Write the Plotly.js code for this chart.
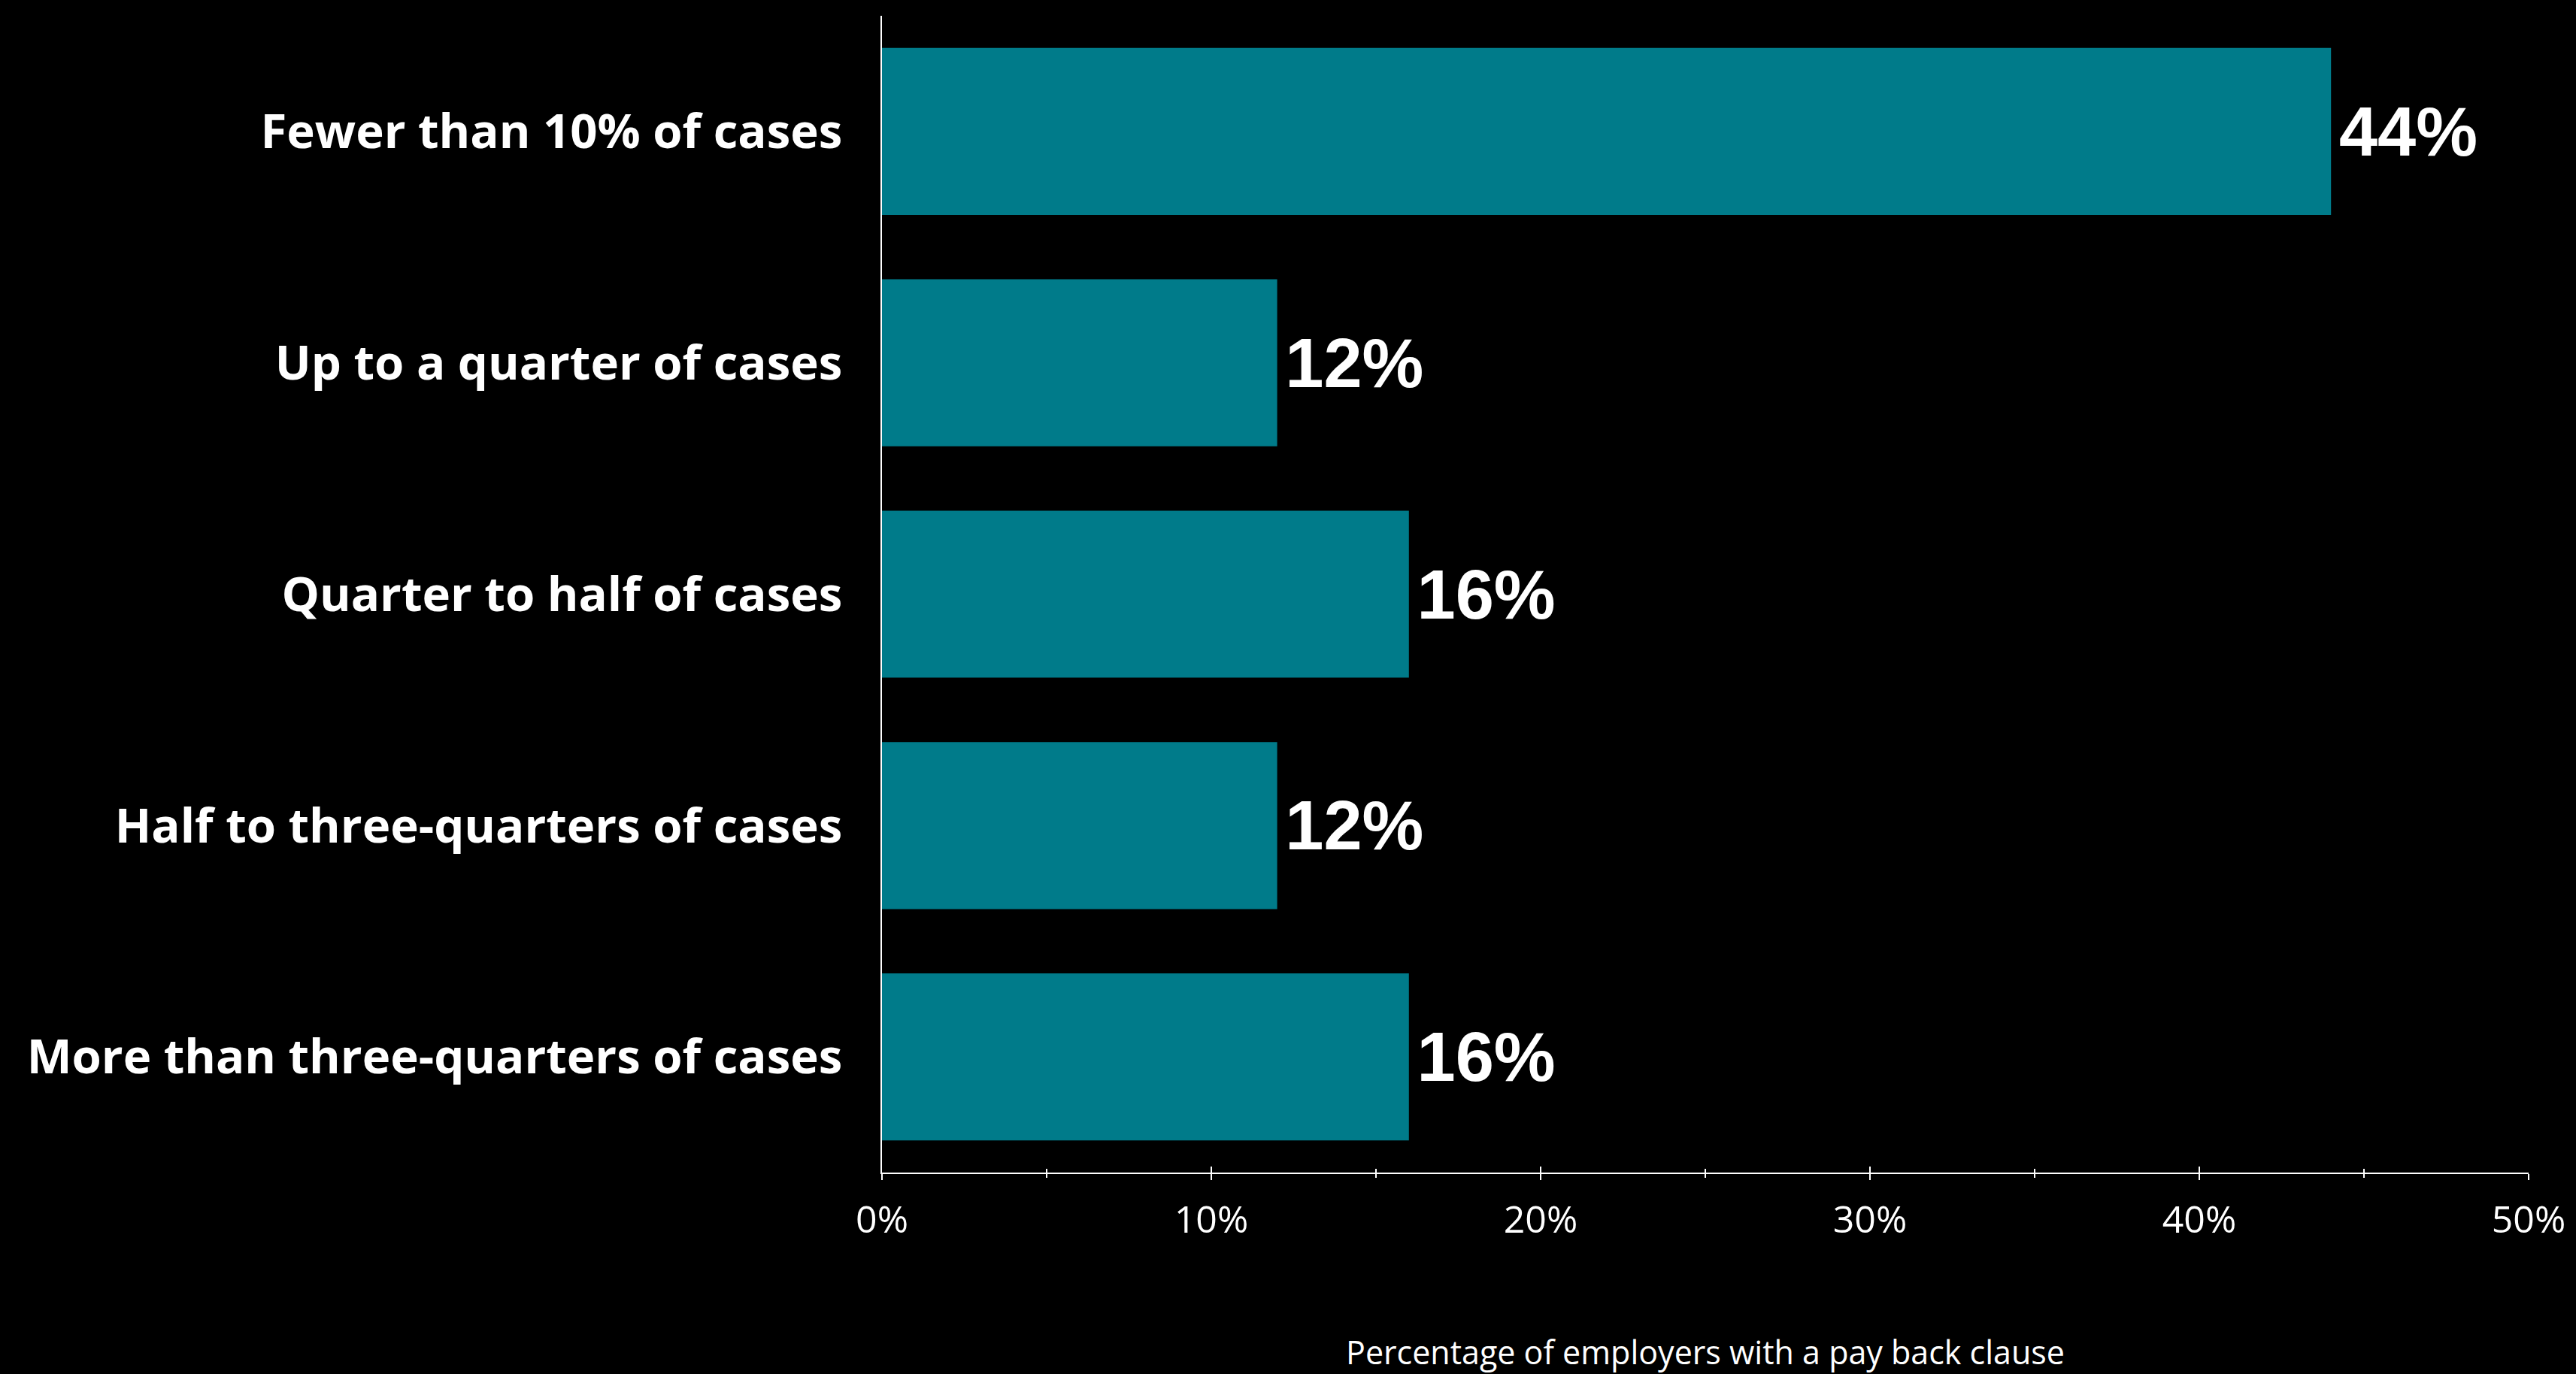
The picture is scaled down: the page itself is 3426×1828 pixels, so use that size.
<!DOCTYPE html>
<html>
<head>
<meta charset="utf-8">
<script src="https://cdn.plot.ly/plotly-3.0.1.min.js"></script>
<style>html,body{margin:0;padding:0;background:#000;}#chart{width:3426px;height:1828px;}</style>
</head>
<body>
<div id="chart"></div>
<script>
const categories = [
  "Fewer than 10% of cases",
  "Up to a quarter of cases",
  "Quarter to half of cases",
  "Half to three-quarters of cases",
  "More than three-quarters of cases"
];
const values = [44, 12, 16, 12, 16];
const xTickVals = [0, 10, 20, 30, 40, 50];
const xTickText = ["0%", "10%", "20%", "30%", "40%", "50%"];
const xTitle = "Percentage of employers with a pay back clause";

const trace = {
  type: "bar",
  orientation: "h",
  y: categories,
  x: values,
  marker: {color: "#007b8a"},
  text: values.map(v => "\u200A" + v + "%"),
  textposition: "outside",
  cliponaxis: false,
  textfont: {family: "Liberation Sans, Arial, sans-serif", size: 92, color: "#ffffff", weight: "bold"},
  hoverinfo: "none"
};
const ghost = {type: "scatter", x: [0], y: [categories[0]], xaxis: "x2", mode: "none", showlegend: false, hoverinfo: "none"};

const layout = {
  width: 3426, height: 1828,
  paper_bgcolor: "#000000", plot_bgcolor: "#000000",
  margin: {l: 1173, r: 63, t: 21, b: 268},
  bargap: 0.278,
  showlegend: false,
  font: {family: "Open Sans, sans-serif", color: "#ffffff"},
  xaxis: {
    range: [0, 50], fixedrange: true,
    showgrid: false, zeroline: false,
    showline: true, linecolor: "#ffffff", linewidth: 2,
    tickvals: xTickVals, ticktext: xTickText,
    ticks: "outside", ticklen: 8, tickwidth: 2, tickcolor: "#ffffff",
    minor: {dtick: 5, ticks: "outside", ticklen: 5, tickwidth: 2, tickcolor: "#ffffff", showgrid: false},
    tickfont: {family: "Open Sans, sans-serif", size: 50, color: "#ffffff"},
    ticklabelstandoff: 10,
    title: {text: xTitle, font: {family: "Open Sans, sans-serif", size: 43, color: "#ffffff"}, standoff: 149}
  },
  xaxis2: {
    overlaying: "x", side: "bottom", range: [0, 50], fixedrange: true,
    showgrid: false, zeroline: false, showline: false,
    tickvals: xTickVals, showticklabels: false,
    ticks: "inside", ticklen: 8, tickwidth: 2, tickcolor: "#ffffff",
    minor: {dtick: 5, ticks: "inside", ticklen: 5, tickwidth: 2, tickcolor: "#ffffff", showgrid: false}
  },
  yaxis: {
    autorange: "reversed", fixedrange: true,
    showgrid: false, zeroline: false,
    showline: true, linecolor: "#ffffff", linewidth: 2,
    ticks: "",
    tickfont: {family: "Open Sans, sans-serif", size: 63.5, color: "#ffffff", weight: "bold"},
    ticklabelstandoff: 38
  }
};

Plotly.newPlot("chart", [trace, ghost], layout, {staticPlot: true, displayModeBar: false});
</script>
</body>
</html>
